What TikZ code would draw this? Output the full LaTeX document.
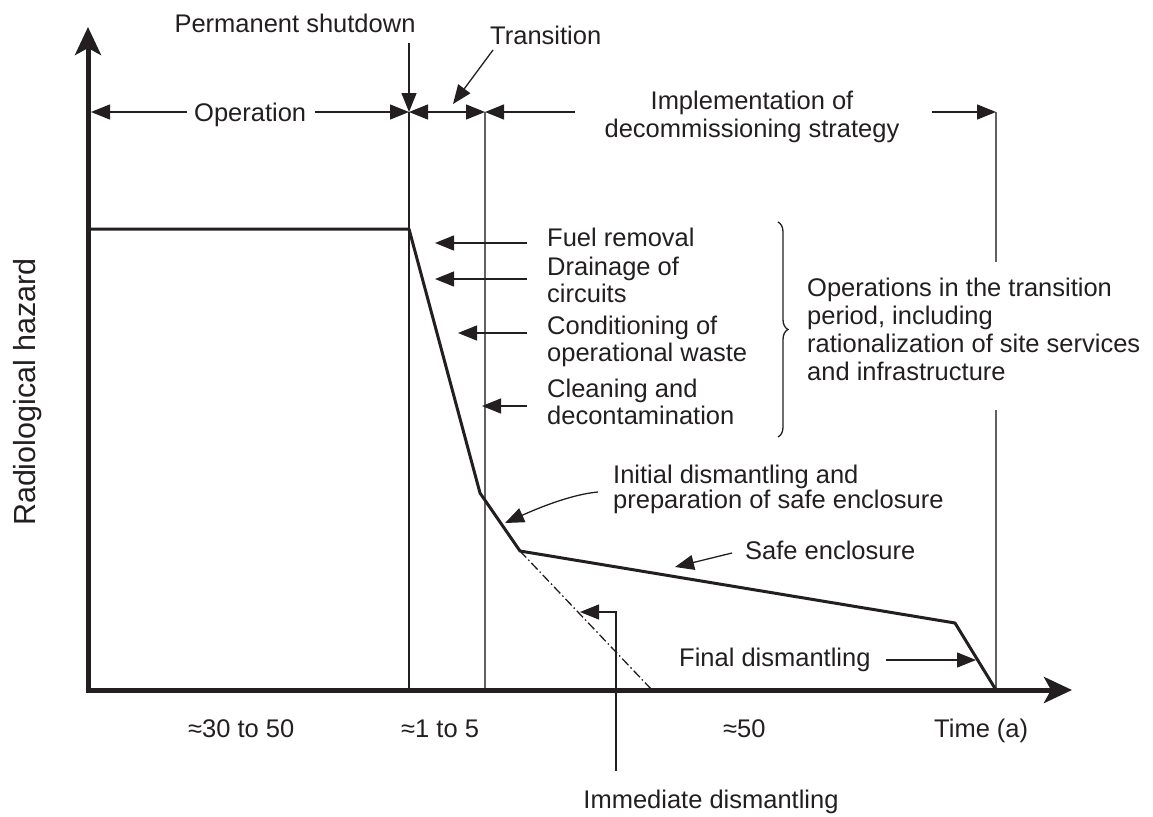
\documentclass[tikz,border=0pt]{standalone}
\usepackage{fontspec}
\setmainfont{Liberation Sans}
\usetikzlibrary{arrows.meta,decorations.pathreplacing}
\definecolor{ink}{HTML}{231F20}
\definecolor{guide}{gray}{0.38}
\begin{document}
\begin{tikzpicture}[x=1pt,y=-1pt,
  lbl/.style={font=\fontsize{25.5}{26.5}\selectfont, text=ink, inner sep=0pt, align=left},
  lblc/.style={lbl, align=center},
  thinline/.style={line width=1.3pt, draw=ink},
  guideline/.style={line width=1.5pt, draw=guide},
  arr/.style={thinline, -{Triangle[length=19pt,width=15pt]}},
  dbl/.style={thinline, {Triangle[length=19pt,width=15pt]}-{Triangle[length=19pt,width=15pt]}},
  axis/.style={line width=5pt, draw=ink, line join=miter, {Stealth[length=28pt,width=26pt,inset=7pt]}-{Stealth[length=28pt,width=26pt,inset=7pt]}},
  hazard/.style={line width=3pt, draw=ink, line join=round},
  dashdot/.style={line width=1.3pt, draw=ink, dash pattern=on 9pt off 3pt on 1.5pt off 3pt}
]
\useasboundingbox (0,0) rectangle (1153,816);

% key points
\coordinate (O) at (88,690);
\coordinate (ytip) at (88,27);
\coordinate (xtip) at (1072,690);
\coordinate (P0) at (88,229);
\coordinate (P1) at (409,229);
\coordinate (P2) at (480,493);
\coordinate (P3) at (520,551);
\coordinate (P4) at (955,623);
\coordinate (P5) at (996,690);
\coordinate (D) at (652,690);

% dimension line points
\coordinate (A0) at (91,112);
\coordinate (A1) at (409,112);
\coordinate (A2) at (485,112);
\coordinate (A3) at (996,112);
\coordinate (B1) at (409,690);
\coordinate (B2) at (485,690);
\coordinate (G1) at (996,262);
\coordinate (G2) at (996,410);

% labels (multi-line nodes anchored at the baseline of their last line)
\node[lbl, anchor=base] (ps) at (295,33) {Permanent shutdown};
\node[lbl, anchor=base west] (tr) at (490,45) {Transition};
\node[lbl, anchor=base west] (op) at (194,121) {Operation};
\node[lblc, anchor=base, font=\fontsize{25.5}{28}\selectfont] (impl) at (752,137) {Implementation of\\decommissioning strategy};

\node[lbl, anchor=base west] (fr) at (547,246) {Fuel removal};
\node[lbl, anchor=base west] (dr) at (547,302) {Drainage of\\circuits};
\node[lbl, anchor=base west] (co) at (547,361) {Conditioning of\\operational waste};
\node[lbl, anchor=base west] (cl) at (547,424) {Cleaning and\\decontamination};
\node[lbl, anchor=base west, font=\fontsize{25.5}{28}\selectfont] (ops) at (807,380) {Operations in the transition\\period, including\\rationalization of site services\\and infrastructure};

\node[lbl, anchor=base west, font=\fontsize{25.5}{25}\selectfont] (init) at (613,508) {Initial dismantling and\\preparation of safe enclosure};
\node[lbl, anchor=base west] (safe) at (745,559) {Safe enclosure};
\node[lbl, anchor=base west] (fin) at (679,666) {Final dismantling};
\node[lbl, anchor=base] (imm) at (711,808) {Immediate dismantling};

\node[lbl, anchor=base west] (t1) at (188,737) {≈30 to 50};
\node[lbl, anchor=base west] (t2) at (401,737) {≈1 to 5};
\node[lbl, anchor=base west] (t3) at (723,737) {≈50};
\node[lbl, anchor=base west] (t4) at (934,737) {Time (a)};

\node[lbl, anchor=base, rotate=90, font=\fontsize{30.5}{32}\selectfont] (yl) at (35,392) {Radiological hazard};

% guide verticals
\draw[thinline] (A1) -- (B1);
\draw[guideline] (A2) -- (B2);
\draw[guideline] (A3) -- (G1);
\draw[guideline] (G2) -- (P5);

% axes
\draw[axis] (ytip) -- (O) -- (xtip);

% hazard curve
\draw[hazard] (P0) -- (P1) -- (P2) -- (P3) -- (P4) -- (P5);
\draw[dashdot] (P3) -- (D);

% dimension line
\coordinate (opL) at (187,112);
\coordinate (opR) at (315,112);
\coordinate (trR) at (575,112);
\coordinate (imR) at (932,112);
\draw[arr] (opL) -- (A0);
\draw[arr] (opR) -- (A1);
\draw[dbl] (A1) -- (A2);
\draw[arr] (trR) -- (A2);
\draw[arr] (imR) -- (A3);

% permanent shutdown and transition pointers
\coordinate (psB) at (409,43);
\draw[arr] (psB) -- (A1);
\coordinate (trT) at (493,50);
\coordinate (trH) at (453,104);
\draw[arr] (trT) -- (trH);

% transition operations arrows
\coordinate (frT) at (527,243); \coordinate (frH) at (435,243);
\coordinate (drT) at (527,279); \coordinate (drH) at (435,279);
\coordinate (coT) at (527,333); \coordinate (coH) at (458,333);
\coordinate (clT) at (527,406); \coordinate (clH) at (482,406);
\draw[arr] (frT) -- (frH);
\draw[arr] (drT) -- (drH);
\draw[arr] (coT) -- (coH);
\draw[arr] (clT) -- (clH);

% brace
\coordinate (br1) at (778,222);
\coordinate (br2) at (778,437);
\draw[thinline, decorate, decoration={brace, amplitude=10pt}] (br1) -- (br2);

% other pointers
\coordinate (inT) at (598,492);
\coordinate (inH) at (505,523);
\draw[arr] (inT) .. controls (575,494) and (545,505) .. (inH);
\coordinate (saT) at (732,553);
\coordinate (saH) at (675,567);
\draw[arr] (saT) -- (saH);
\coordinate (fiT) at (886,660);
\coordinate (fiH) at (976,660);
\draw[arr] (fiT) -- (fiH);
\coordinate (imB) at (616,771);
\coordinate (imC) at (616,612);
\coordinate (imH) at (580,612);
\draw[arr] (imB) -- (imC) -- (imH);
\end{tikzpicture}
\end{document}
